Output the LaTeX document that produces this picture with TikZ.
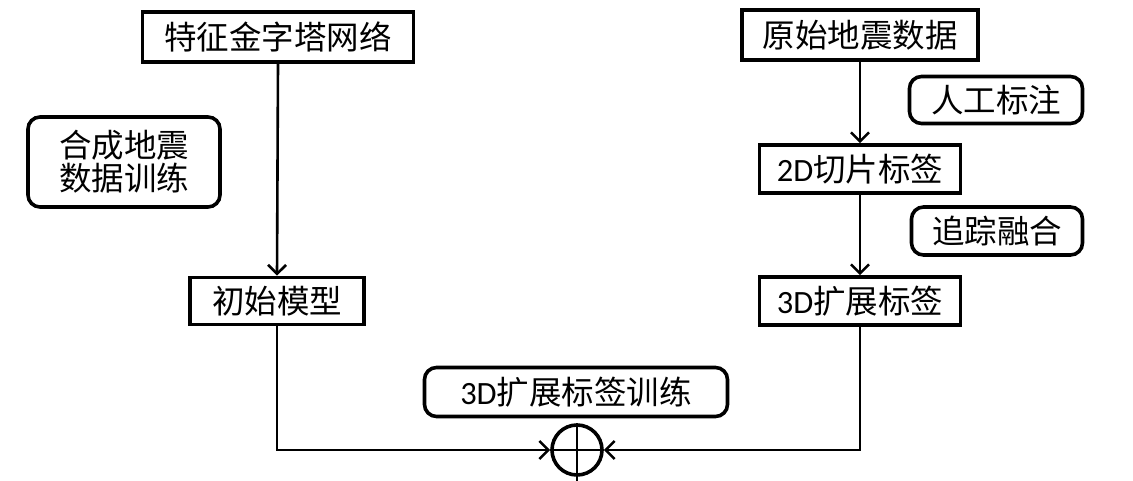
\documentclass[tikz,border=0pt]{standalone}
\usepackage{fontspec}
\setmainfont{Carlito}
\newfontfamily\cjk{Noto Sans CJK SC}
\usetikzlibrary{arrows.meta}
\begin{document}
\begin{tikzpicture}[x=1pt,y=-1pt,
  box/.style={draw=black,line width=3.6pt,fill=white,inner sep=0pt,font=\fontsize{32.5}{36}\selectfont},
  rbox/.style={box,rounded corners=12pt},
  conn/.style={line width=2.6pt,-{Straight Barb[length=9pt,width=18pt,line width=2.6pt]}},
  plain/.style={line width=2.6pt}]
\useasboundingbox (0,0) rectangle (1133,481);
\node[box,minimum width=271pt,minimum height=50pt] (fpn) at (278,37) {\cjk 特征金字塔网络};
\node[rbox,minimum width=192pt,minimum height=90pt,align=center] (syn) at (124,162) {\cjk 合成地震\\[-3pt]\cjk 数据训练};
\node[box,minimum width=174pt,minimum height=47pt] (init) at (277,301) {\cjk 初始模型};
\node[box,minimum width=236pt,minimum height=50pt] (raw) at (860,35) {\cjk 原始地震数据};
\node[rbox,minimum width=173pt,minimum height=47pt] (man) at (996,100) {\cjk 人工标注};
\node[box,minimum width=201pt,minimum height=48pt] (l2d) at (860,169) {2D{\cjk 切片标签}};
\node[rbox,minimum width=171pt,minimum height=48pt] (trk) at (997,231) {\cjk 追踪融合};
\node[box,minimum width=201pt,minimum height=48pt] (l3d) at (860,301) {3D{\cjk 扩展标签}};
\node[rbox,minimum width=303pt,minimum height=49pt] (tr3) at (576,392) {3D{\cjk 扩展标签训练}};
\node[draw=black,line width=3.6pt,circle,minimum size=50pt,inner sep=0pt] (sum) at (577,450) {};
\coordinate (bot) at (577,481);
\draw[plain] (sum.west) -- (sum.east);
\draw[plain] (sum.north) -- (bot);
\draw[conn] (fpn.south) -- (init.north);
\draw[conn] (raw.south) -- (l2d.north);
\draw[conn] (l2d.south) -- (l3d.north);
\draw[conn] (init.south) |- (sum.west);
\draw[conn] (l3d.south) |- (sum.east);
\end{tikzpicture}
\end{document}
